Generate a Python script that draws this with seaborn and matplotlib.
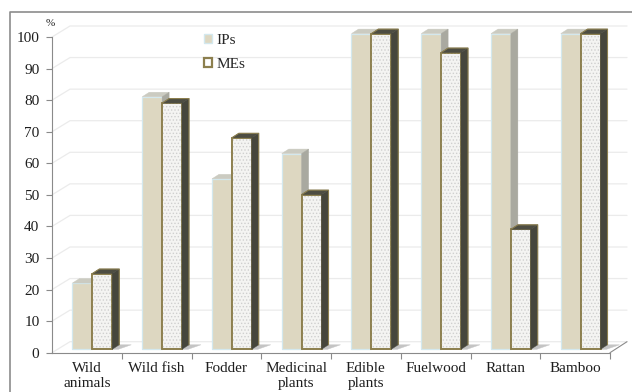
import pandas as pd
import seaborn as sns
import matplotlib.pyplot as plt
from matplotlib.patches import Polygon, Rectangle, Patch
from matplotlib.lines import Line2D

# Share of households using each forest resource (%)
categories = ["Wild\nanimals", "Wild fish", "Fodder", "Medicinal\nplants",
              "Edible\nplants", "Fuelwood", "Rattan", "Bamboo"]
ips = [21, 80, 54, 62, 100, 100, 100, 100]
mes = [24, 78, 67, 49, 100, 94, 38, 100]
groups = ["IPs", "MEs"]
y_ticks = list(range(0, 101, 10))

df = pd.DataFrame({
    "category": categories * 2,
    "group": [groups[0]] * len(categories) + [groups[1]] * len(categories),
    "value": ips + mes,
})

sns.set_theme(style="white")
plt.rcParams["font.family"] = ["Liberation Serif", "DejaVu Serif"]
plt.rcParams["hatch.linewidth"] = 0.6

W, H = 632, 392
fig = plt.figure(figsize=(W / 100, H / 100), dpi=100)
ax_l, ax_r, ax_b, ax_t = 52, 610, 352.7, 37
ax = fig.add_axes([ax_l / W, (H - ax_b) / H, (ax_r - ax_l) / W, (ax_b - ax_t) / H])

ip_face, ip_edge, ip_top, ip_side = "#DDD7C1", "#D3E8EE", "#CBCBC1", "#A9A9A0"
me_face, me_edge, me_top, me_side = "#F4F4F2", "#8C7F4E", "#4D4D42", "#46463C"
speck = "#CFCFCF"
axis_col = "#8A8A8A"
grid_col = "#EBEBEB"
text_col = "#1E1E1E"
fs = 11

sns.barplot(data=df, x="category", y="value", hue="group",
            palette={groups[0]: ip_face, groups[1]: me_face},
            width=0.57, gap=0, saturation=1, legend=False, ax=ax)

ax.set_xlim(-0.5, len(categories) - 0.5)
ax.set_ylim(0, 100)

# pixel -> data unit conversions for the pseudo-3D faces
px_x = len(categories) / (ax_r - ax_l)
px_y = 100 / (ax_b - ax_t)
shift_x, shift_y = 5.5 * px_x, 3.4 * px_y
dx, dy = 7 * px_x, 4.5 * px_y


def add_poly(pts, color, z):
    ax.add_patch(Polygon(pts, closed=True, facecolor=color, edgecolor=color,
                         lw=0.3, zorder=z, clip_on=False))


for k, cont in enumerate(ax.containers):
    is_me = k == 1
    for rect in cont:
        x0 = rect.get_x() + shift_x
        y0 = shift_y
        w, h = rect.get_width(), rect.get_height()
        rect.set_x(x0)
        rect.set_y(y0)
        rect.set_clip_on(False)
        z = 3 if is_me else 2
        rect.set_zorder(z)
        if is_me:
            rect.set_edgecolor(me_edge)
            rect.set_linewidth(1.2)
            # floor shadow
            add_poly([(x0 + w, y0), (x0 + w + dx, y0 + dy),
                      (x0 + w + dx + 12 * px_x, y0 + dy),
                      (x0 + w + 6 * px_x, y0)], "#C4C4C4", 1.5)
            ax.add_patch(Rectangle((x0, y0), w, h, facecolor="none",
                                   edgecolor=speck, lw=0, hatch=".....",
                                   zorder=z + 0.05, clip_on=False))
            ax.add_patch(Rectangle((x0, y0), w, h, facecolor="none",
                                   edgecolor=me_edge, lw=1.2,
                                   zorder=z + 0.1, clip_on=False))
            top_c, side_c = me_top, me_side
        else:
            rect.set_edgecolor(ip_edge)
            rect.set_linewidth(0.9)
            top_c, side_c = ip_top, ip_side
        add_poly([(x0, y0 + h), (x0 + w, y0 + h),
                  (x0 + w + dx, y0 + h + dy), (x0 + dx, y0 + h + dy)],
                 top_c, z + 0.2)
        add_poly([(x0 + w, y0), (x0 + w + dx, y0 + dy),
                  (x0 + w + dx, y0 + h + dy), (x0 + w, y0 + h)],
                 side_c, z + 0.2)
        if is_me:
            ax.add_line(Line2D([x0, x0 + dx, x0 + w + dx, x0 + w + dx],
                               [y0 + h, y0 + h + dy, y0 + h + dy, y0 + dy],
                               color=me_edge, lw=0.8, zorder=z + 0.3,
                               clip_on=False))

# back-wall gridlines with the receding floor edge
gx, gy = 18 * px_x, 11 * px_y
x_lo, x_hi = -0.5, len(categories) - 0.5
for t in y_ticks:
    ax.add_line(Line2D([x_lo, x_lo + gx, x_hi + 17 * px_x], [t, t + gy, t + gy],
                       color=grid_col, lw=0.9, zorder=0.5, clip_on=False))
ax.add_line(Line2D([x_hi, x_hi + 17 * px_x], [0, gy], color=axis_col, lw=0.8,
                   zorder=1, clip_on=False))

# axes styling
for s in ["top", "right"]:
    ax.spines[s].set_visible(False)
for s in ["left", "bottom"]:
    ax.spines[s].set_color(axis_col)
    ax.spines[s].set_linewidth(0.8)

ax.set_yticks(y_ticks)
ax.set_xticks(range(len(categories)))
ax.set_xticklabels(categories)
ax.set_xticks([i + 0.5 for i in range(len(categories))], minor=True)
ax.tick_params(axis="y", direction="out", length=4, width=0.8, color=axis_col,
               labelsize=fs, labelcolor=text_col, pad=5, left=True)
ax.tick_params(axis="x", which="major", length=0, labelsize=fs,
               labelcolor=text_col, pad=7)
ax.tick_params(axis="x", which="minor", direction="out", length=4, width=0.8,
               color=axis_col, bottom=True)
for lab in ax.get_xticklabels():
    lab.set_linespacing(1.2)
ax.set_xlabel("")
ax.set_ylabel("")

fig.text(50 / W, 1 - 24 / H, "%", fontsize=8, ha="center", va="center",
         color=text_col)

handles = [Patch(facecolor=ip_face, edgecolor=ip_edge, lw=1.0, label=groups[0]),
           Patch(facecolor="white", edgecolor=me_edge, lw=1.6, label=groups[1])]
fig.legend(handles=handles, loc="upper left", bbox_to_anchor=(204 / W, 1 - 34 / H),
           frameon=False, fontsize=fs, handlelength=0.55, handleheight=0.55,
           handletextpad=0.25, labelspacing=0.7, borderpad=0, borderaxespad=0)

# outer chart frame
fig.add_artist(Line2D([10 / W, 10 / W, 1], [0, 1 - 12 / H, 1 - 12 / H],
                      transform=fig.transFigure, color="#8C8C8C", lw=1.2))

fig.savefig("out.png", dpi=100)
